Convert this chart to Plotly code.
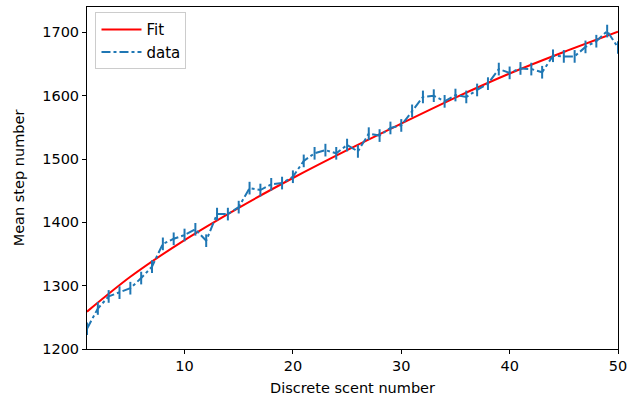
import plotly.graph_objects as go

# Data
scent_number = list(range(1, 51))
mean_steps = [1232, 1264, 1283, 1289, 1296, 1312, 1330, 1366, 1374, 1380,
              1389, 1371, 1413, 1413, 1424, 1454, 1451, 1460, 1462, 1472,
              1497, 1509, 1514, 1509, 1522, 1512, 1540, 1537, 1549, 1553,
              1576, 1598, 1600, 1591, 1601, 1598, 1609, 1619, 1642, 1636,
              1643, 1642, 1637, 1663, 1662, 1662, 1677, 1686, 1702, 1676]
step_error = [10] * 50

fit_x = [1, 5, 10, 15, 20, 25, 30, 35, 40, 45, 50]
fit_y = [1259, 1314, 1372, 1423, 1470, 1514, 1556, 1597, 1635, 1669, 1701]

fig = go.Figure()
fig.add_trace(go.Scatter(
    x=fit_x, y=fit_y, mode="lines", name="Fit",
    line=dict(color="#ff0000", width=2, shape="spline", smoothing=0.8),
))
fig.add_trace(go.Scatter(
    x=scent_number, y=mean_steps, mode="lines", name="data",
    line=dict(color="#1f77b4", width=2, dash="dashdot"),
    error_y=dict(type="data", array=step_error, visible=True,
                 color="#1f77b4", thickness=2, width=0),
))

font = "DejaVu Sans, sans-serif"
fig.update_layout(
    width=638, height=404,
    margin=dict(l=87, r=20, t=7, b=55),
    paper_bgcolor="white", plot_bgcolor="white",
    font=dict(family=font, size=14.5, color="black"),
    showlegend=True,
    legend=dict(x=0.016, y=0.985, xanchor="left", yanchor="top",
                bgcolor="rgba(255,255,255,0.8)", bordercolor="#cccccc",
                borderwidth=1, itemwidth=40,
                font=dict(size=15, family=font)),
    xaxis=dict(range=[1, 50], tickvals=[10, 20, 30, 40, 50],
               showline=True, linecolor="black", linewidth=1, mirror=True,
               ticks="outside", ticklen=4, tickcolor="black",
               showgrid=False, zeroline=False,
               title=dict(text="Discrete scent number", standoff=9,
                          font=dict(size=14.5))),
    yaxis=dict(range=[1200, 1740], tickvals=[1200, 1300, 1400, 1500, 1600, 1700],
               showline=True, linecolor="black", linewidth=1, mirror=True,
               ticks="outside", ticklen=4, tickcolor="black",
               showgrid=False, zeroline=False,
               title=dict(text="Mean step number", standoff=14,
                          font=dict(size=14.5))),
)

fig.write_html("out.html", config={"displayModeBar": False},
               post_script="document.body.style.margin='0';")
